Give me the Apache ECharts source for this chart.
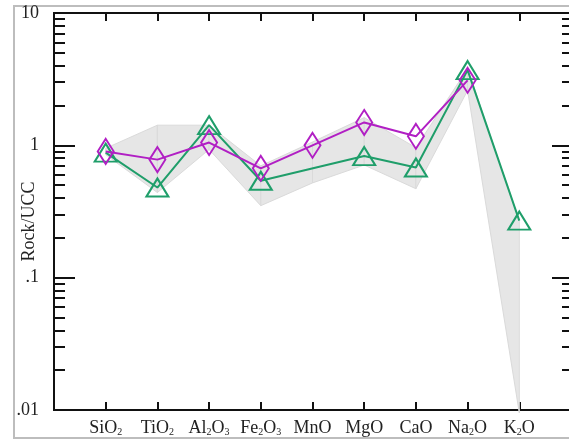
<!DOCTYPE html>
<html>
<head>
<meta charset="utf-8">
<script src="https://cdn.jsdelivr.net/npm/echarts@6/dist/echarts.min.js"></script>
<style>
  html, body { margin: 0; padding: 0; background: #fff; overflow: hidden; }
  #chart { width: 580px; height: 441px; }
</style>
</head>
<body>
<div id="chart"></div>
<script>
// oxides, padded with an empty slot at each end so the axis runs 0..10
var oxides = ['SiO2', 'TiO2', 'Al2O3', 'Fe2O3', 'MnO', 'MgO', 'CaO', 'Na2O', 'K2O']
var purpleVals = [0.90, 0.78, 1.05, 0.67, 1.0, 1.49, 1.17, 3.1, null]
var greenVals = [0.88, 0.48, 1.42, 0.54, null, 0.83, 0.68, 3.7, 0.27]
var bandUpper = [0.95, 1.42, 1.42, 0.70, 1.06, 1.62, 0.96, 3.8, 0.27]
var bandLower = [0.85, 0.44, 0.93, 0.35, 0.52, 0.71, 0.47, 2.6, 0.0095]
var yMajor = [0.01, 0.1, 1, 10]
var yMajorLabels = ['.01', '.1', '1', '10']
var yMinor = [0.02, 0.03, 0.04, 0.05, 0.06, 0.07, 0.08, 0.09,
  0.2, 0.3, 0.4, 0.5, 0.6, 0.7, 0.8, 0.9,
  2, 3, 4, 5, 6, 7, 8, 9]

var cats = [''].concat(oxides).concat([''])
var serif = 'Liberation Serif'

function toPairs (vals) {
  return vals.map(function (v, i) { return [oxides[i], v == null ? '-' : v] })
}

function richName (name) {
  return name.replace(/(\d)/g, '{s|$1}')
}

function yAxisDef (pos, ticks, len, showLabel) {
  var isLeft = pos === 'left'
  return {
    type: 'log',
    logBase: 10,
    min: 0.01,
    max: 10,
    position: pos,
    axisLine: { show: true, onZero: false, lineStyle: { color: '#111', width: 2 } },
    axisTick: { show: true, inside: true, length: len, customValues: ticks, lineStyle: { color: '#111', width: 2 } },
    axisLabel: showLabel ? {
      show: true,
      customValues: yMajor,
      margin: 15,
      fontFamily: serif,
      fontSize: 18,
      color: '#222',
      formatter: function (v) {
        var i = yMajor.findIndex(function (m) { return Math.abs(m - v) < m * 1e-6 })
        return i >= 0 ? yMajorLabels[i] : ''
      }
    } : { show: false },
    splitLine: { show: false },
    name: showLabel ? 'Rock/UCC' : '',
    nameLocation: 'middle',
    nameGap: 16,
    nameMoveOverlap: false,
    nameRotate: 90,
    nameTextStyle: { fontFamily: serif, fontSize: 18, color: '#222', padding: [0, 20, 0, 0] }
  }
}

function xAxisDef (pos, showLabel) {
  return {
    type: 'category',
    data: cats,
    boundaryGap: false,
    position: pos,
    axisLine: { show: true, onZero: false, lineStyle: { color: '#111', width: 2 } },
    axisTick: {
      show: true,
      inside: true,
      length: 8,
      lineStyle: { color: '#111', width: 2 },
      interval: function (i) { return i > 0 && i < cats.length - 1 }
    },
    axisLabel: showLabel ? {
      show: true,
      interval: 0,
      margin: 9,
      fontFamily: serif,
      fontSize: 18,
      color: '#222',
      formatter: function (v) { return richName(v) },
      rich: {
        s: { fontFamily: serif, fontSize: 10, lineHeight: 10, verticalAlign: 'bottom', color: '#222' }
      }
    } : { show: false },
    splitLine: { show: false }
  }
}

var chart = echarts.init(document.getElementById('chart'))
chart.setOption({
  animation: false,
  backgroundColor: '#fff',
  graphic: [{
    type: 'rect',
    z: -10,
    shape: { x: 14, y: 6, width: 600, height: 432 },
    style: { fill: 'none', stroke: '#bdbdbd', lineWidth: 2 }
  }],
  grid: { left: 54, right: 9, top: 13, bottom: 31, outerBoundsMode: 'none', containLabel: false },
  xAxis: [xAxisDef('bottom', true), xAxisDef('top', false)],
  yAxis: [
    yAxisDef('left', yMajor, 21, true),
    yAxisDef('left', yMinor, 11, false),
    yAxisDef('right', yMajor, 19, false),
    yAxisDef('right', yMinor, 9, false)
  ],
  series: [
    {
      type: 'custom',
      name: 'range',
      z: 1,
      data: oxides.map(function (n, i) { return [n, bandLower[i], bandUpper[i]] }),
      renderItem: function (params, api) {
        var i = params.dataIndex
        if (i >= oxides.length - 1) return null
        var pts = [
          api.coord([i + 1, bandUpper[i]]),
          api.coord([i + 2, bandUpper[i + 1]]),
          api.coord([i + 2, bandLower[i + 1]]),
          api.coord([i + 1, bandLower[i]])
        ]
        return {
          type: 'polygon',
          shape: { points: pts },
          style: { fill: '#e6e6e6', stroke: '#dadada', lineWidth: 1 }
        }
      }
    },
    {
      type: 'line',
      name: 'green',
      z: 3,
      data: toPairs(greenVals),
      connectNulls: true,
      symbol: 'triangle',
      symbolSize: [22, 18],
      lineStyle: { color: '#1f9e6a', width: 2 },
      itemStyle: { color: 'rgba(0,0,0,0)', borderColor: '#1f9e6a', borderWidth: 2 }
    },
    {
      type: 'line',
      name: 'purple',
      z: 4,
      data: toPairs(purpleVals),
      symbol: 'diamond',
      symbolSize: [16, 25],
      lineStyle: { color: '#b11fc4', width: 2 },
      itemStyle: { color: 'rgba(0,0,0,0)', borderColor: '#b11fc4', borderWidth: 2 }
    }
  ]
})
</script>
</body>
</html>
